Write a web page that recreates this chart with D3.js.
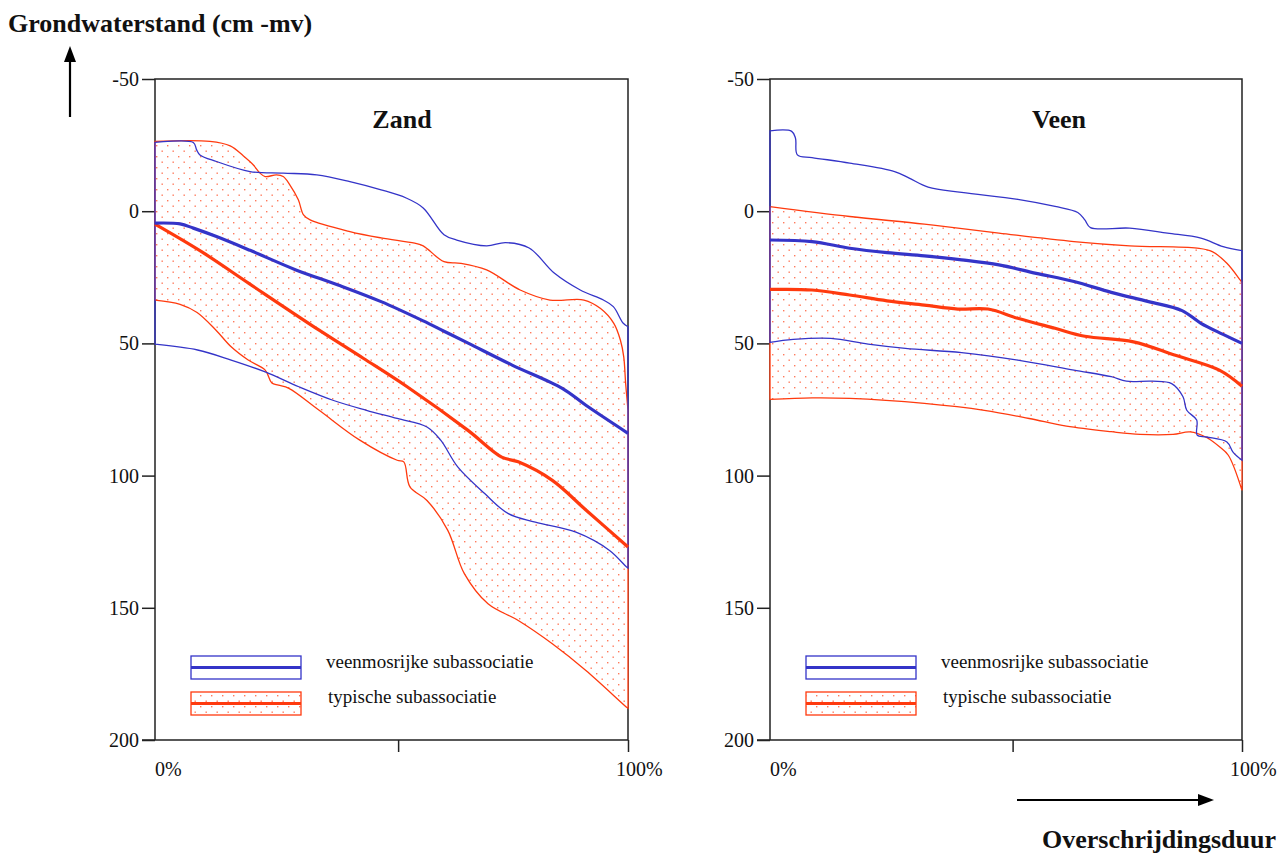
<!DOCTYPE html>
<html>
<head>
<meta charset="utf-8">
<script src="https://cdn.jsdelivr.net/npm/d3@7"></script>
<style>
  html, body { margin: 0; padding: 0; background: #fff; }
  svg { display: block; }
  text { font-family: "Liberation Serif", "Times New Roman", serif; fill: #111; }
</style>
</head>
<body>
<svg id="chart" width="1286" height="853"></svg>
<script>
// ---------- DATA ----------
const panelTitles = ["Zand", "Veen"];
const yTicks = [-50, 0, 50, 100, 150, 200];
const xTicks = [51.4, 100];
const xLabelVals = [0, 100];
const xLabelText = ["0%", "100%"];
const legendLabels = ["veenmosrijke subassociatie", "typische subassociatie"];
const yTitle = "Grondwaterstand (cm -mv)";
const xTitle = "Overschrijdingsduur";

// Zand  [overschrijdingsduur %, grondwaterstand cm -mv]
const zandBlueUpper = [[0,-26],[8.1,-26],[8.8,-23.2],[9.5,-21.3],[13.0,-18.8],[20.1,-15.0],[27.1,-14.4],[34.2,-13.75],[41.2,-11.2],[47.8,-8.1],[53.1,-5.0],[56.7,-1.25],[61.1,8.9],[63.8,10.9],[70.1,13.1],[74.1,11.9],[79.1,13.9],[84.4,23.4],[89.9,29.8],[94.8,33.6],[96.9,36.1],[99.0,42.4],[100,43.7]];
const zandBlueLower = [[0,50.3],[9.0,52.5],[16.1,56.3],[23.3,60.8],[30.4,66.4],[37.6,71.5],[44.7,75.3],[51.2,78.4],[57.5,81.6],[60.4,86.6],[64.0,96.7],[69.7,106.8],[74.7,114.4],[80.4,117.6],[89.0,121.4],[96.1,128.3],[99.7,134.6],[100,135]];
const zandBlueMedian = [[0,4.5],[5.3,4.8],[8.1,6.4],[13.0,9.6],[20.1,14.8],[29.8,22.2],[38.7,27.9],[47.8,34.2],[56.7,41.5],[61.1,45.4],[66.2,49.9],[75.5,58.2],[86.1,67.0],[91.1,73.4],[100,84]];
const zandRedUpper = [[0,-26.4],[11.6,-26.4],[15.9,-24.7],[18.7,-20.9],[20.8,-17.5],[22.2,-14.4],[23.3,-13.1],[25.7,-13.75],[27.1,-13.1],[28.5,-10.0],[30.3,-4.3],[31.4,1.4],[32.8,3.3],[41.2,7.7],[47.8,10.1],[54.9,12.1],[56.7,13.1],[61.1,19.1],[64.7,19.7],[70.1,22.2],[77.2,29.8],[83.5,33.6],[90.7,33.6],[94.2,36.8],[97.0,42.4],[98.4,48.8],[99.1,55.1],[99.5,65.1],[100,75.3]];
const zandRedLower = [[0,33.6],[5.3,35.2],[8.9,38.3],[12.9,45],[16.1,51.3],[19.7,56.3],[23.3,60.1],[24.7,65],[26.1,65.8],[28.3,67],[34.7,75.3],[43.3,86.6],[51.2,94.2],[52.6,94.8],[53.9,104.3],[57.5,109.4],[61.9,120.7],[65.4,137.1],[70.4,148.5],[76.8,154.8],[84.0,163.6],[91.1,173.7],[99.7,187.6],[100,188]];
const zandRedMedian = [[0,4.9],[10,15.5],[20,27.5],[34.7,45],[44.1,55.7],[53.3,66.4],[66.1,82.8],[73.3,93],[76.8,94.8],[84.0,101.8],[91.1,113],[100,127]];

// Veen
const veenBlueUpper = [[0,-30.4],[4.6,-30.2],[5.4,-27.6],[5.8,-21.3],[8.9,-20.3],[16.9,-18.2],[26.4,-15.0],[29.5,-12.5],[33.5,-9.1],[40.6,-7.1],[52.5,-4.5],[60.4,-1.8],[65.2,0.5],[66.7,3.3],[67.9,6.2],[76.2,6.4],[84.2,8.3],[91.3,10.2],[96.0,13.4],[100,14.9]];
const veenBlueLower = [[0,49.6],[4.9,48.5],[12.9,48.1],[20.8,50.3],[28.7,51.9],[40.6,53.5],[52.5,56.3],[64.4,60.1],[72.3,62.6],[75.5,64.3],[81.0,64.3],[85.1,65.2],[87.5,70.2],[88.3,75.3],[90.4,79.0],[90.5,84.7],[92.5,85.4],[96.8,87.3],[98.1,91.1],[100,94.2]];
const veenBlueMedian = [[0,10.9],[8.9,11.5],[16.9,14.0],[24.8,15.7],[32.7,16.9],[40.6,18.4],[48.5,20.3],[56.4,23.5],[64.4,26.6],[72.3,30.7],[80.2,34.2],[87.3,37.6],[91.3,42.4],[96.0,46.6],[100,50.0]];
const veenRedUpper = [[0,-1.75],[16.9,2.0],[32.7,4.9],[48.5,8.3],[64.4,11.5],[76.2,13.1],[90.5,14.0],[93.7,15.3],[96.8,19.7],[99.6,26.0],[100,27]];
const veenRedLower = [[0,71.2],[8.9,70.6],[16.9,70.8],[32.7,72.7],[45.4,75.3],[54.9,78.4],[62.8,81.3],[72.3,83.4],[78.4,84.4],[85.4,84.4],[89.0,83.5],[92.5,85.6],[95.3,89.2],[97.1,92.3],[100,105.6]];
const veenRedMedian = [[0,29.6],[8.9,29.8],[16.9,31.7],[24.8,33.9],[32.7,35.5],[39.8,37.0],[46.2,37.0],[52.5,40.5],[60.4,44.3],[66.7,47.3],[77.0,49.4],[85.7,54.4],[95.2,60.1],[100,66.2]];

// ---------- DRAW ----------
const BLUE = "#3434c8";
const RED = "#ff3a0e";
const svg = d3.select("#chart");

const defs = svg.append("defs");
const pat = defs.append("pattern").attr("id", "dots")
  .attr("patternUnits", "userSpaceOnUse").attr("width", 11).attr("height", 11);
pat.append("rect").attr("width", 11).attr("height", 11).attr("fill", "#fff");
pat.append("rect").attr("x", 2).attr("y", 2).attr("width", 1.4).attr("height", 1.4).attr("fill", "#ff7a5c");
pat.append("rect").attr("x", 7.5).attr("y", 7.5).attr("width", 1.4).attr("height", 1.4).attr("fill", "#ff7a5c");

const y = d3.scaleLinear().domain([-50, 200]).range([79, 740]);
const panels = [
  { title: panelTitles[0], titleX: 402, range: [155, 628], bu: zandBlueUpper, bl: zandBlueLower, bm: zandBlueMedian, ru: zandRedUpper, rl: zandRedLower, rm: zandRedMedian },
  { title: panelTitles[1], titleX: 1059, range: [770, 1242], bu: veenBlueUpper, bl: veenBlueLower, bm: veenBlueMedian, ru: veenRedUpper, rl: veenRedLower, rm: veenRedMedian }
];

panels.forEach(p => {
  const x = d3.scaleLinear().domain([0, 100]).range(p.range);
  const g = svg.append("g");
  const line = d3.line().x(d => x(d[0])).y(d => y(d[1])).curve(d3.curveCatmullRom.alpha(0.5));
  const band = (up, low) => {
    const a = line(up);
    const b = line(low.slice().reverse());
    return a + "L" + b.slice(1) + "Z";
  };

  // frame
  const x0 = p.range[0], x1 = p.range[1];
  g.append("path")
    .attr("d", `M${x0},${y(200)}V${y(-50)}H${x1}V${y(200)}H${x0 - 13}`)
    .attr("fill", "none").attr("stroke", "#222").attr("stroke-width", 1.5);

  // y axis
  const ya = g.append("g").attr("transform", `translate(${x0},0)`)
    .call(d3.axisLeft(y).tickValues(yTicks).tickSize(13).tickSizeOuter(0).tickPadding(3).tickFormat(d => String(d)));
  ya.select(".domain").remove();
  ya.selectAll(".tick line").attr("stroke", "#222").attr("stroke-width", 1.5);
  ya.selectAll(".tick text").attr("font-size", 20).attr("font-family", "Liberation Serif, serif").attr("fill", "#111");

  // x axis
  const xa = g.append("g").attr("transform", `translate(0,${y(200)})`)
    .call(d3.axisBottom(x).tickValues(xTicks).tickSize(12).tickSizeOuter(0).tickFormat(""));
  xa.select(".domain").remove();
  xa.selectAll(".tick line").attr("stroke", "#222").attr("stroke-width", 1.5);
  g.selectAll(".xlab").data(xLabelVals).enter().append("text")
    .attr("x", (d, i) => x(d) + (i === 0 ? 0 : -12))
    .attr("y", 776).attr("font-size", 20)
    .text((d, i) => xLabelText[i]);

  // red band (dotted)
  g.append("path").attr("d", band(p.ru, p.rl))
    .attr("fill", "url(#dots)").attr("stroke", RED).attr("stroke-width", 1.3);
  // blue band (outline)
  g.append("path").attr("d", band(p.bu, p.bl))
    .attr("fill", "none").attr("stroke", BLUE).attr("stroke-width", 1.3);
  // medians
  g.append("path").attr("d", line(p.rm)).attr("fill", "none").attr("stroke", RED).attr("stroke-width", 3.2);
  g.append("path").attr("d", line(p.bm)).attr("fill", "none").attr("stroke", BLUE).attr("stroke-width", 3.2);

  // title
  g.append("text").attr("x", p.titleX).attr("y", 128)
    .attr("text-anchor", "middle").attr("font-size", 26).attr("font-weight", "bold").text(p.title);

  // legend
  const lx = x0 + 36, lw = 110;
  const lg = g.append("g");
  lg.append("rect").attr("x", lx).attr("y", 656).attr("width", lw).attr("height", 23)
    .attr("fill", "#fff").attr("stroke", BLUE).attr("stroke-width", 1.3);
  lg.append("line").attr("x1", lx).attr("x2", lx + lw).attr("y1", 667.5).attr("y2", 667.5)
    .attr("stroke", BLUE).attr("stroke-width", 3.2);
  lg.append("rect").attr("x", lx).attr("y", 692).attr("width", lw).attr("height", 23)
    .attr("fill", "url(#dots)").attr("stroke", RED).attr("stroke-width", 1.3);
  lg.append("line").attr("x1", lx).attr("x2", lx + lw).attr("y1", 703.5).attr("y2", 703.5)
    .attr("stroke", RED).attr("stroke-width", 3.2);
  lg.append("text").attr("x", x0 + 171).attr("y", 668).attr("font-size", 19).text(legendLabels[0]);
  lg.append("text").attr("x", x0 + 173).attr("y", 703).attr("font-size", 19).text(legendLabels[1]);
});

// axis titles & arrows
svg.append("text").attr("x", 8).attr("y", 32).attr("font-size", 26).attr("font-weight", "bold").text(yTitle);
svg.append("line").attr("x1", 70).attr("x2", 70).attr("y1", 117).attr("y2", 60).attr("stroke", "#000").attr("stroke-width", 2.2);
svg.append("path").attr("d", "M70,46L64,62L76,62Z").attr("fill", "#000");

svg.append("text").attr("x", 1042).attr("y", 848).attr("font-size", 26).attr("font-weight", "bold").text(xTitle);
svg.append("line").attr("x1", 1017).attr("x2", 1200).attr("y1", 800).attr("y2", 800).attr("stroke", "#000").attr("stroke-width", 2.2);
svg.append("path").attr("d", "M1214,800L1198,794L1198,806Z").attr("fill", "#000");
</script>
</body>
</html>
